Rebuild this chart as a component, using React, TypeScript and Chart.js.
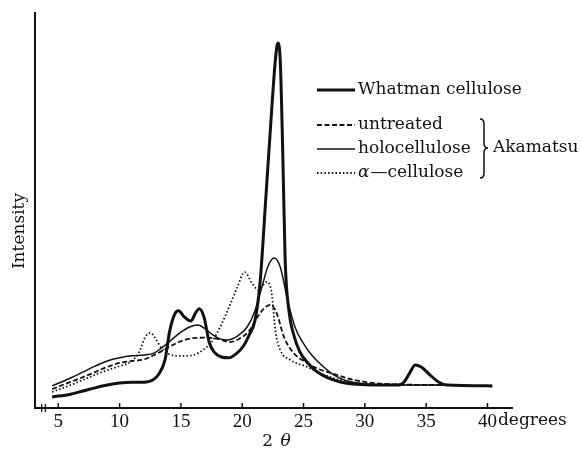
import React, { useEffect, useRef } from 'react';
import { Chart, registerables } from 'chart.js';
Chart.register(...registerables);

// ---- data (2θ in degrees, intensity in arbitrary units 0..100) ----
const whatmanX = [4.5, 6, 7, 8, 9, 10, 11, 11.7, 12.5, 13.2, 13.7, 14.1, 14.5, 14.8, 15.3, 15.8, 16.2, 16.5, 16.9, 17.3, 17.7, 18.3, 18.9, 19.5, 20.1, 20.6, 21.05, 21.45, 21.95, 22.4, 22.7, 22.9, 23.1, 23.3, 23.5, 23.8, 24.2, 24.7, 25.3, 26, 27, 28, 29, 32.7, 33.2, 33.7, 34.1, 34.6, 35.3, 36, 36.7, 40.4];
const whatmanY = [2.8, 3.5, 4.3, 5.1, 5.8, 6.3, 6.5, 6.5, 6.8, 8.6, 12.2, 19.7, 23.8, 24.6, 23.0, 22.0, 24.1, 25.1, 22.8, 16.7, 14.2, 12.9, 12.7, 13.7, 15.7, 18.7, 22.3, 31.6, 54.4, 75.4, 88, 92.4, 88, 65.3, 37.5, 24.8, 18.5, 14.2, 11.6, 9.4, 7.6, 6.6, 6.1, 5.8, 6.6, 9.1, 10.9, 10.4, 8.4, 6.6, 5.8, 5.6];

const untreatedX = [4.5, 6, 7, 8, 9, 10, 11, 12, 13, 14, 15, 16, 17, 18, 19, 20, 20.6, 21.3, 21.8, 22.3, 22.8, 23.4, 24.2, 25.3, 26.2, 27.2, 28.5, 30, 31.5, 36.5];
const untreatedY = [4.8, 6.6, 7.8, 9.1, 10.4, 11.4, 11.9, 12.3, 13.7, 15.4, 16.9, 17.7, 17.8, 17.5, 16.7, 18.0, 19.7, 23.3, 25.3, 26.1, 24.1, 18.0, 13.9, 11.4, 9.9, 8.9, 7.6, 6.6, 6.1, 5.8];

const holoX = [4.5, 6, 7, 8, 9, 10, 11, 12, 12.8, 13.5, 14.2, 15, 15.7, 16.4, 17, 17.6, 18.2, 18.8, 19.6, 20.4, 21, 21.6, 22.1, 22.6, 23.1, 23.7, 24.3, 25, 25.8, 26.5, 27.5, 28.5, 30, 32, 36.5];
const holoY = [5.6, 7.6, 9.1, 10.6, 11.9, 12.7, 13.2, 13.4, 13.9, 15.4, 17.2, 19.2, 20.5, 21.0, 20.0, 18.5, 17.5, 17.2, 18.2, 20.5, 24.3, 30.6, 35.9, 38.0, 35.7, 27.3, 20.5, 16.3, 12.9, 10.8, 8.3, 6.9, 6.1, 5.8, 5.8];

const alphaX = [4.5, 6, 7, 8, 9, 10, 11, 11.6, 12.1, 12.5, 12.9, 13.4, 14, 15, 16, 16.8, 17.5, 18.2, 19, 19.6, 20.2, 20.8, 21.3, 22.0, 22.4, 22.7, 23.1, 23.9, 25.3, 26.5, 28, 30, 36.5];
const alphaY = [4.1, 5.8, 7.1, 8.4, 9.6, 10.6, 11.9, 14.2, 18.0, 19.0, 17.7, 15.2, 13.7, 13.2, 13.4, 14.7, 16.7, 20.5, 26.1, 30.6, 34.4, 31.6, 29.9, 31.9, 29.1, 19.7, 14.7, 12.2, 10.4, 8.6, 7.1, 6.1, 5.8];

const xTickValues = [5, 10, 15, 20, 25, 30, 35, 40];
const breakMarks = [3.65, 3.95];
const seriesLabels = ['Whatman cellulose', 'untreated', 'holocellulose', 'cellulose'];
const groupLabel = 'Akamatsu';
const xUnit = 'degrees';
const yTitle = 'Intensity';
const xTitleNum = '2';
const xTitleSym = 'θ';

const INK = '#111111';
const SERIF = '"DejaVu Serif", serif';
const TICKFONT = '"Liberation Serif", serif';

function pts(xs: number[], ys: number[]) {
  return xs.map((x, i) => ({ x, y: ys[i] }));
}

const decor = {
  id: 'decor',
  afterDraw(chart: any) {
    const { ctx, chartArea } = chart;
    const { left, right, top, bottom } = chartArea;
    const xs = chart.scales.x;
    ctx.save();
    ctx.strokeStyle = INK;
    ctx.fillStyle = INK;
    ctx.lineCap = 'butt';
    // inward ticks
    ctx.lineWidth = 1.5;
    xTickValues.forEach((v) => {
      const px = xs.getPixelForValue(v);
      ctx.beginPath();
      ctx.moveTo(px, bottom);
      ctx.lineTo(px, bottom - 5);
      ctx.stroke();
    });
    // axis break
    ctx.lineWidth = 1.3;
    breakMarks.forEach((v) => {
      const px = xs.getPixelForValue(v);
      ctx.beginPath();
      ctx.moveTo(px, bottom - 4);
      ctx.lineTo(px, bottom + 4);
      ctx.stroke();
    });
    // unit after the last tick label
    ctx.font = '19px ' + TICKFONT;
    const w40 = ctx.measureText(String(xTickValues[xTickValues.length - 1])).width;
    ctx.font = '17px ' + SERIF;
    ctx.textBaseline = 'middle';
    ctx.textAlign = 'left';
    ctx.fillText(xUnit, xs.getPixelForValue(xTickValues[xTickValues.length - 1]) + w40 / 2 + 1, bottom + 13);
    // x title 2θ
    const cx = (left + right) / 2 + 2;
    ctx.font = '17px ' + SERIF;
    const w2 = ctx.measureText(xTitleNum + ' ').width;
    ctx.font = 'italic 17px ' + SERIF;
    const wt = ctx.measureText(xTitleSym).width;
    const sx = cx - (w2 + wt) / 2;
    ctx.font = '17px ' + SERIF;
    ctx.fillText(xTitleNum, sx, bottom + 34);
    ctx.font = 'italic 17px ' + SERIF;
    ctx.fillText(xTitleSym, sx + w2 + 2, bottom + 34);
    // y title
    ctx.save();
    ctx.font = '17px ' + SERIF;
    ctx.translate(left - 15, top + (bottom - top) * 0.552);
    ctx.rotate(-Math.PI / 2);
    ctx.textAlign = 'center';
    ctx.fillText(yTitle, 0, 0);
    ctx.restore();
    // legend
    const lx0 = 317, lx1 = 355, tx = 358;
    const rows = [90, 125, 149, 173];
    chart.data.datasets.forEach((ds: any, i: number) => {
      const y = rows[i];
      ctx.save();
      ctx.lineWidth = ds.borderWidth;
      ctx.setLineDash(ds.borderDash || []);
      ctx.beginPath();
      ctx.moveTo(lx0, y);
      ctx.lineTo(lx1, y);
      ctx.stroke();
      ctx.restore();
      ctx.textAlign = 'left';
      ctx.textBaseline = 'middle';
      if (i === 3) {
        ctx.font = 'italic 17px ' + SERIF;
        ctx.fillText('α', tx, y);
        const wa = ctx.measureText('α').width;
        ctx.font = '17px ' + SERIF;
        ctx.fillText('—' + seriesLabels[i], tx + wa + 1, y);
      } else {
        ctx.font = '17px ' + SERIF;
        ctx.fillText(seriesLabels[i], tx, y);
      }
    });
    // brace
    const bx = 484, by0 = 119, by1 = 178, bm = 148;
    ctx.lineWidth = 1.5;
    ctx.beginPath();
    ctx.moveTo(bx - 4, by0);
    ctx.quadraticCurveTo(bx, by0, bx, by0 + 5);
    ctx.lineTo(bx, bm - 5);
    ctx.quadraticCurveTo(bx, bm, bx + 4, bm);
    ctx.quadraticCurveTo(bx, bm, bx, bm + 5);
    ctx.lineTo(bx, by1 - 5);
    ctx.quadraticCurveTo(bx, by1, bx - 4, by1);
    ctx.stroke();
    ctx.font = '17px ' + SERIF;
    ctx.textBaseline = 'middle';
    ctx.fillText(groupLabel, 493, bm);
    ctx.restore();
  },
};

export default function App() {
  const ref = useRef<HTMLCanvasElement | null>(null);
  useEffect(() => {
    if (!ref.current) return;
    const common = {
      pointRadius: 0,
      fill: false,
      borderColor: INK,
      cubicInterpolationMode: 'monotone' as const,
    };
    const chart = new Chart(ref.current, {
      type: 'line',
      data: {
        datasets: [
          { ...common, label: seriesLabels[0], data: pts(whatmanX, whatmanY), borderWidth: 3 },
          { ...common, label: seriesLabels[1], data: pts(untreatedX, untreatedY), borderWidth: 1.8, borderDash: [5, 2.5] },
          { ...common, label: seriesLabels[2], data: pts(holoX, holoY), borderWidth: 1.5 },
          { ...common, label: seriesLabels[3], data: pts(alphaX, alphaY), borderWidth: 1.8, borderDash: [1.5, 2.2] },
        ],
      },
      options: {
        animation: false,
        responsive: true,
        maintainAspectRatio: false,
        layout: { padding: { left: 0, top: 13, right: 69, bottom: 0 } },
        plugins: { legend: { display: false }, tooltip: { enabled: false } },
        scales: {
          x: {
            type: 'linear',
            min: 3.1,
            max: 42,
            grid: { display: false, drawTicks: false },
            border: { display: true, color: INK, width: 2 },
            afterBuildTicks: (s: any) => {
              s.ticks = xTickValues.map((v) => ({ value: v }));
            },
            afterFit: (s: any) => {
              s.height = 41;
            },
            ticks: {
              color: INK,
              padding: 3,
              maxRotation: 0,
              autoSkip: false,
              font: { family: TICKFONT, size: 19 },
            },
          },
          y: {
            type: 'linear',
            min: 0,
            max: 100,
            grid: { display: false, drawTicks: false },
            border: { display: true, color: INK, width: 2 },
            ticks: { display: false },
            afterFit: (s: any) => {
              s.width = 35;
            },
          },
        },
      },
      plugins: [decor],
    });
    return () => chart.destroy();
  }, []);
  return (
    <div style={{ position: 'absolute', left: 0, top: 0, width: 581, height: 449, background: '#fff' }}>
      <canvas ref={ref} />
    </div>
  );
}
